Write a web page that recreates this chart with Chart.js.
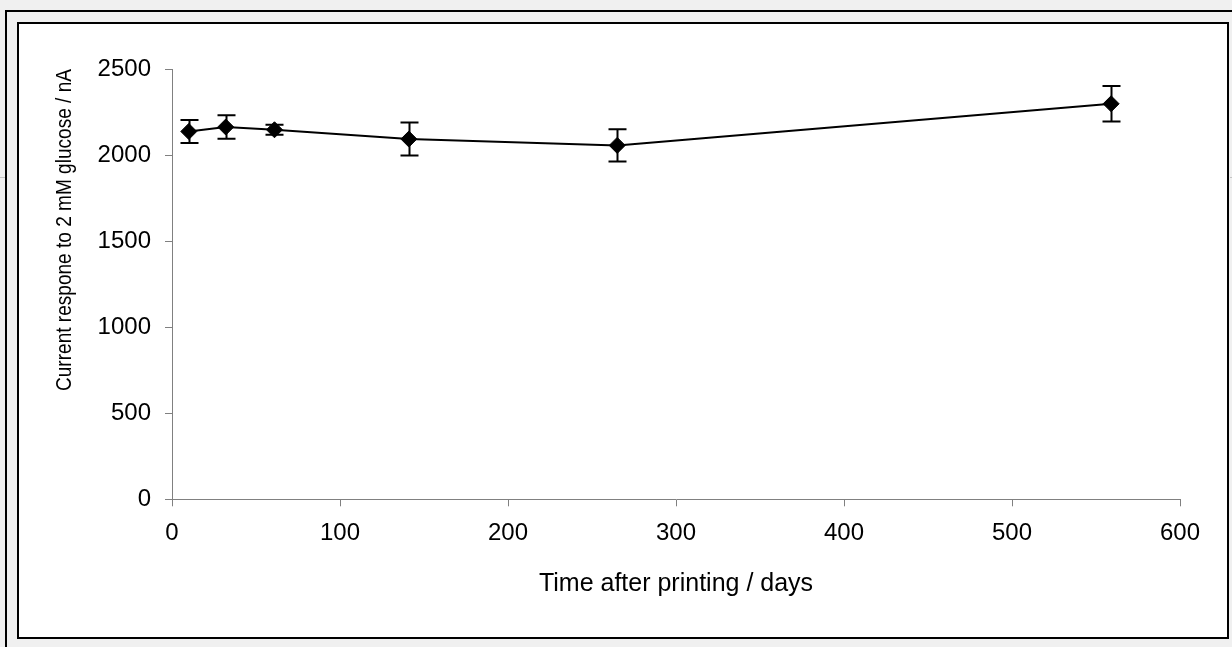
<!DOCTYPE html>
<html>
<head>
<meta charset="utf-8">
<script src="https://cdn.jsdelivr.net/npm/chart.js@4.4.0/dist/chart.umd.min.js"></script>
<style>
  html, body { margin: 0; padding: 0; background: #f0f0f0; width: 1232px; height: 647px; overflow: hidden; }
  #outer { position: absolute; left: 5px; top: 10px; width: 1300px; height: 700px; border: 2px solid #000; }
  #inner { position: absolute; left: 17px; top: 22px; width: 1208px; height: 613px; border: 2px solid #000; background: #fff; }
  .faint { position: absolute; height: 1px; background: #c4c4c4; top: 177px; }
  canvas { display: block; }
</style>
</head>
<body>
<div id="outer"></div>
<div class="faint" style="left:0;width:5px"></div>
<div class="faint" style="left:1230px;width:2px"></div>
<div id="inner"><canvas id="storage" width="1208" height="613"></canvas></div>
<script>
// days after printing, current response (nA), +/- error (nA)
var days = [10, 32, 61, 141, 265, 559];
var current = [2137, 2163, 2147, 2093, 2056, 2298];
var errors = [67, 68, 29, 96, 94, 103];

var xTicks = [0, 100, 200, 300, 400, 500, 600];
var yTicks = [0, 500, 1000, 1500, 2000, 2500];
var yTitle = 'Current respone to 2 mM glucose / nA';

var points = [];
days.forEach(function (d, i) {
    points.push({ x: d, y: current[i] });
});

var font = "'Liberation Sans', Arial, sans-serif";

// draws the vertical error bars with caps
var errorBars = {
    id: 'errorBars',
    afterDatasetsDraw: function (chart) {
        var ctx = chart.ctx;
        var xs = chart.scales.x;
        var ys = chart.scales.y;
        ctx.save();
        ctx.strokeStyle = '#000';
        ctx.lineWidth = 2;
        days.forEach(function (d, i) {
            var px = Math.round(xs.getPixelForValue(d)) + 0.5;
            var top = ys.getPixelForValue(current[i] + errors[i]);
            var bot = ys.getPixelForValue(current[i] - errors[i]);
            ctx.beginPath();
            ctx.moveTo(px, top);
            ctx.lineTo(px, bot);
            ctx.moveTo(px - 9, top);
            ctx.lineTo(px + 9, top);
            ctx.moveTo(px - 9, bot);
            ctx.lineTo(px + 9, bot);
            ctx.stroke();
        });
        ctx.restore();
    }
};

// y title is squeezed along its length like the original, ending at the top of the axis
var squeezedTitle = {
    id: 'squeezedTitle',
    afterDraw: function (chart) {
        var ctx = chart.ctx;
        var ys = chart.scales.y;
        ctx.save();
        ctx.translate(46, ys.top);
        ctx.rotate(-Math.PI / 2);
        ctx.font = '22px ' + font;
        ctx.fillStyle = '#000';
        ctx.textAlign = 'right';
        ctx.textBaseline = 'middle';
        ctx.fillText(yTitle, 0, 0, 322);
        ctx.restore();
    }
};

function plain(v) { return String(v); }

new Chart('storage', {
    type: 'scatter',
    data: {
        datasets: [{
            data: points,
            showLine: true,
            borderColor: '#000',
            borderWidth: 2,
            tension: 0,
            pointStyle: 'rectRot',
            pointRadius: 8,
            pointHoverRadius: 8,
            pointBackgroundColor: '#000',
            pointBorderColor: '#000',
            pointBorderWidth: 1
        }]
    },
    options: {
        responsive: false,
        animation: false,
        events: [],
        layout: { padding: { top: 45, right: 47, left: 0, bottom: 0 } },
        plugins: {
            legend: { display: false },
            tooltip: { enabled: false }
        },
        scales: {
            x: {
                type: 'linear',
                min: 0,
                max: 600,
                afterFit: function (s) { s.height = 137.7; },
                afterBuildTicks: function (s) { s.ticks = xTicks.map(function (v) { return { value: v }; }); },
                grid: { drawOnChartArea: false, drawTicks: true, tickLength: 7, color: '#808080', lineWidth: 1 },
                border: { color: '#808080', width: 1 },
                ticks: { color: '#000', padding: 13, font: { family: font, size: 24 }, callback: plain },
                title: {
                    display: true,
                    text: 'Time after printing / days',
                    color: '#000',
                    padding: { top: 0, bottom: 38 },
                    font: { family: font, size: 25 }
                }
            },
            y: {
                type: 'linear',
                min: 0,
                max: 2500,
                afterFit: function (s) { s.width = 153; },
                afterBuildTicks: function (s) { s.ticks = yTicks.map(function (v) { return { value: v }; }); },
                grid: { drawOnChartArea: false, drawTicks: true, tickLength: 7, color: '#808080', lineWidth: 1 },
                border: { color: '#808080', width: 1 },
                ticks: { color: '#000', padding: 14, font: { family: font, size: 24 }, callback: plain },
                title: { display: false }
            }
        }
    },
    plugins: [errorBars, squeezedTitle]
});
</script>
</body>
</html>
